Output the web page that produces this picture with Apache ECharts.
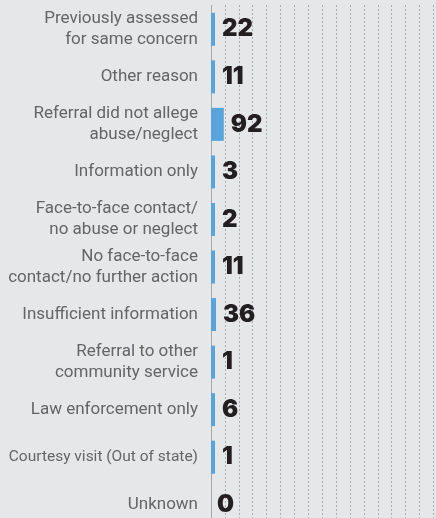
<!DOCTYPE html>
<html>
<head>
<meta charset="utf-8">
<script src="https://cdn.jsdelivr.net/npm/echarts@6/dist/echarts.min.js"></script>
<style>
html,body{margin:0;padding:0;background:#e6e7e8;}
#chart{width:436px;height:518px;}
</style>
</head>
<body>
<div id="chart"></div>
<script>
const categories = [
  'Previously assessed\nfor same concern',
  'Other reason',
  'Referral did not allege\nabuse/neglect',
  'Information only',
  'Face-to-face contact/\nno abuse or neglect',
  'No face-to-face\ncontact/no further action',
  'Insufficient information',
  'Referral to other\ncommunity service',
  'Law enforcement only',
  'Courtesy visit (Out of state)',
  'Unknown'
];
const values = [22, 11, 92, 3, 2, 11, 36, 1, 6, 1, 0];

const chart = echarts.init(document.getElementById('chart'), null, {renderer: 'canvas'});
const seriesData = values.map(v => v === 0
  ? {value: v, itemStyle: {color: 'rgba(0,0,0,0)'}, label: {distance: 2}}
  : v);
const catData = categories.map(c => c.indexOf('Courtesy') === 0
  ? {value: c, textStyle: {fontSize: 15.5}}
  : c);

chart.setOption({
  backgroundColor: '#e6e7e8',
  animation: false,
  grid: {left: 211, top: 5.5, height: 523, right: 2.6, containLabel: false, outerBoundsMode: 'none'},
  xAxis: {
    type: 'value',
    min: 0,
    max: 1600,
    interval: 100,
    axisLine: {show: false},
    axisTick: {show: false},
    axisLabel: {show: false},
    splitLine: {show: true, lineStyle: {color: '#6f7072', width: 1, type: [1, 3]}}
  },
  yAxis: {
    type: 'category',
    inverse: true,
    data: catData,
    axisLine: {show: true, lineStyle: {color: '#a7a8aa', width: 1}},
    axisTick: {show: false},
    axisLabel: {
      margin: 13,
      color: '#646567',
      fontFamily: 'Roboto',
      fontSize: 17,
      lineHeight: 21,
      align: 'right'
    }
  },
  series: [{
    type: 'bar',
    data: seriesData,
    barWidth: 33,
    barMinHeight: 4,
    itemStyle: {color: '#5aa4dc'},
    label: {
      show: true,
      position: 'right',
      distance: 7,
      color: '#231f20',
      fontFamily: 'Inter',
      fontWeight: 900,
      fontSize: 24
    }
  }]
});
</script>
</body>
</html>
